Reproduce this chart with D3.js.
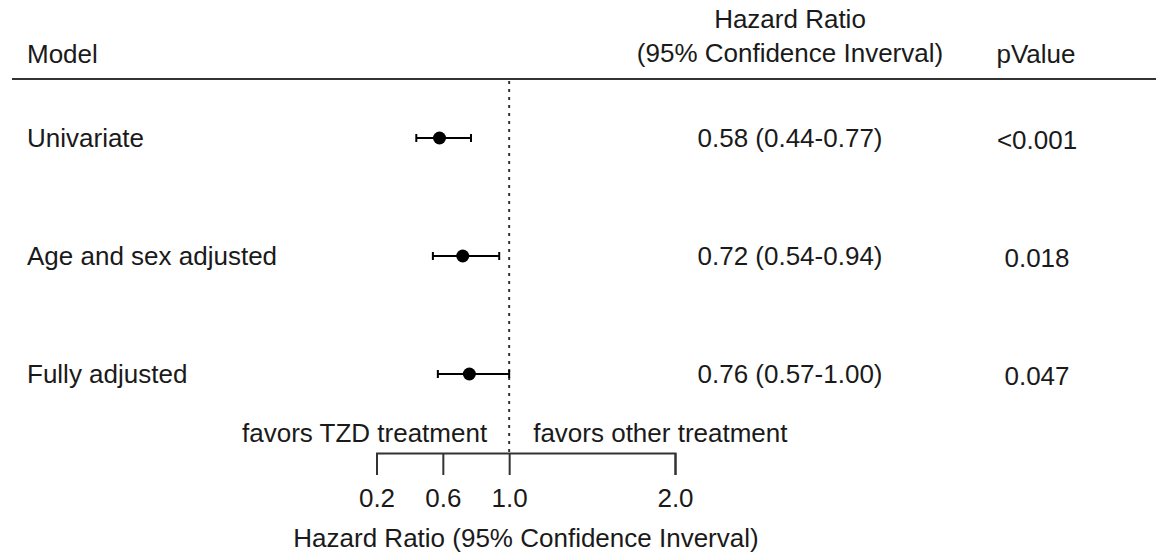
<!DOCTYPE html>
<html>
<head>
<meta charset="utf-8">
<script src="https://cdn.jsdelivr.net/npm/d3@7"></script>
<style>
  html, body { margin: 0; padding: 0; background: #fff; }
  svg text { font-family: "Liberation Sans", Arial, sans-serif; font-size: 26px; fill: #1a1a1a; }
</style>
</head>
<body>
<svg id="chart" width="1156" height="554"></svg>
<script>
// ---- data ----
const models   = ["Univariate", "Age and sex adjusted", "Fully adjusted"];
const hr       = [0.58, 0.72, 0.76];
const lower    = [0.44, 0.54, 0.57];
const upper    = [0.77, 0.94, 1.00];
const hrLabels = ["0.58 (0.44-0.77)", "0.72 (0.54-0.94)", "0.76 (0.57-1.00)"];
const pValues  = ["<0.001", "0.018", "0.047"];
const tickValues = [0.2, 0.6, 1.0, 2.0];
const refValue = 1.0;

const svg = d3.select("#chart");
const x = d3.scaleLinear().domain([0.2, 2.0]).range([376.5, 675]);
const y = d3.scalePoint().domain(models).range([138, 374]);
const axisY = 453;

// header
svg.append("text").attr("x", 27).attr("y", 63).text("Model");
svg.append("text").attr("x", 790).attr("y", 28).attr("text-anchor", "middle").text("Hazard Ratio");
svg.append("text").attr("x", 790).attr("y", 62).attr("text-anchor", "middle").text("(95% Confidence Inverval)");
svg.append("text").attr("x", 1036).attr("y", 63).attr("text-anchor", "middle").text("pValue");
svg.append("line").attr("x1", 12).attr("x2", 1156).attr("y1", 79).attr("y2", 79)
  .attr("stroke", "#333").attr("stroke-width", 2);

// reference line
svg.append("line").attr("x1", x(refValue)).attr("x2", x(refValue)).attr("y1", 81).attr("y2", axisY)
  .attr("stroke", "#333").attr("stroke-width", 2).attr("stroke-dasharray", "3,5");

// rows
const rows = models.map((m, i) => ({ m, hr: hr[i], lo: lower[i], hi: upper[i], lab: hrLabels[i], p: pValues[i] }));
const g = svg.selectAll("g.row").data(rows).join("g").attr("class", "row");
g.append("text").attr("x", 27).attr("y", d => y(d.m) + 9).text(d => d.m);
g.append("line").attr("x1", d => x(d.lo)).attr("x2", d => x(d.hi))
  .attr("y1", d => y(d.m)).attr("y2", d => y(d.m)).attr("stroke", "#000").attr("stroke-width", 2);
g.append("line").attr("x1", d => x(d.lo)).attr("x2", d => x(d.lo))
  .attr("y1", d => y(d.m) - 4).attr("y2", d => y(d.m) + 4).attr("stroke", "#000").attr("stroke-width", 2);
g.append("line").attr("x1", d => x(d.hi)).attr("x2", d => x(d.hi))
  .attr("y1", d => y(d.m) - 4).attr("y2", d => y(d.m) + 4).attr("stroke", "#000").attr("stroke-width", 2);
g.append("circle").attr("cx", d => x(d.hr)).attr("cy", d => y(d.m)).attr("r", 6.5).attr("fill", "#000");
g.append("text").attr("x", 790).attr("y", d => y(d.m) + 9).attr("text-anchor", "middle").text(d => d.lab);
g.append("text").attr("x", 1037).attr("y", d => y(d.m) + 10.5).attr("text-anchor", "middle").text(d => d.p);

// axis
const axis = d3.axisBottom(x).tickValues(tickValues).tickFormat(d3.format(".1f"))
  .tickSizeInner(22).tickSizeOuter(22).tickPadding(14);
const ag = svg.append("g").attr("transform", `translate(0,${axisY})`).call(axis);
ag.select(".domain").attr("stroke", "#333").attr("stroke-width", 2).attr("fill", "none");
ag.selectAll(".tick line").attr("stroke", "#333").attr("stroke-width", 2);
ag.selectAll(".tick text").attr("fill", "#1a1a1a").style("font-size", "26px")
  .style("font-family", "'Liberation Sans', Arial, sans-serif");

svg.append("text").attr("x", x(refValue) - 22).attr("y", 442).attr("text-anchor", "end").text("favors TZD treatment");
svg.append("text").attr("x", x(refValue) + 24).attr("y", 442).text("favors other treatment");
svg.append("text").attr("x", 526).attr("y", 547).attr("text-anchor", "middle").text("Hazard Ratio (95% Confidence Inverval)");
</script>
</body>
</html>
